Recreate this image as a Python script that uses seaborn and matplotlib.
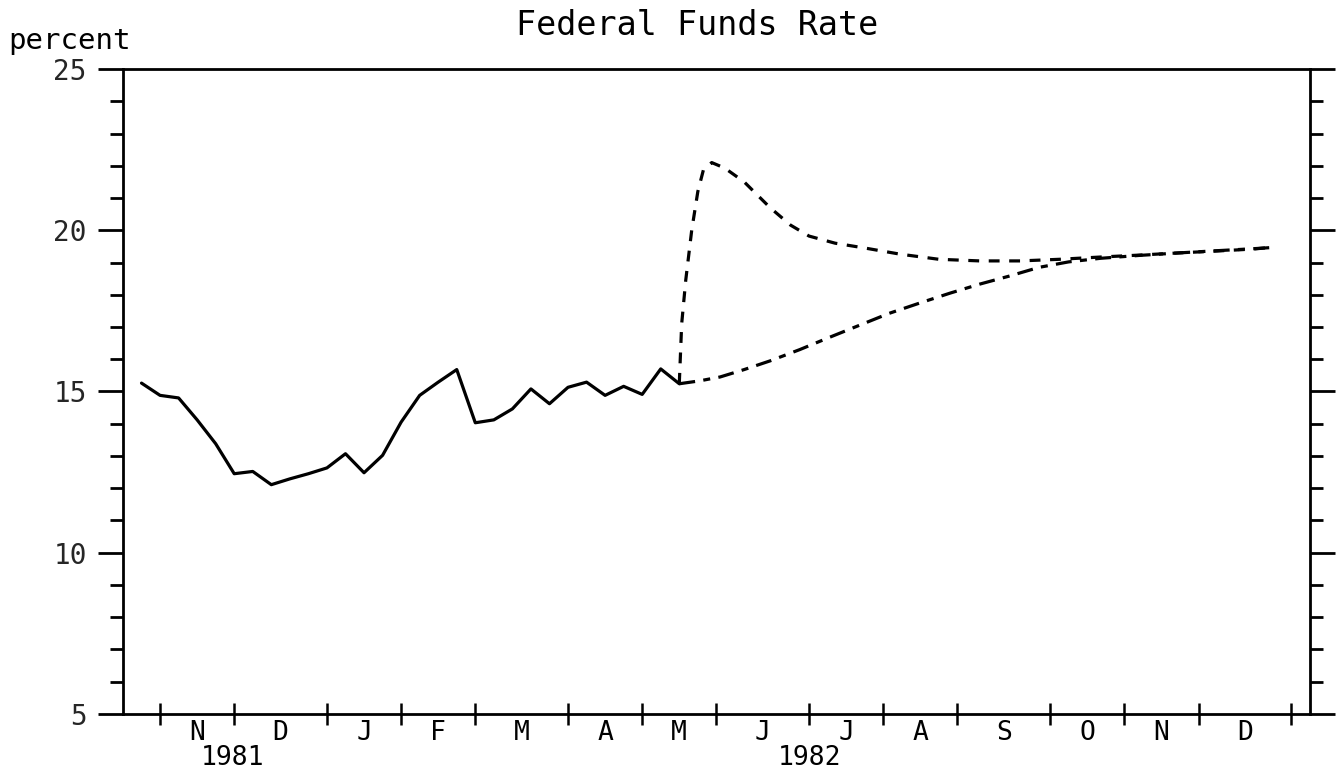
import numpy as np
import pandas as pd
import matplotlib
matplotlib.use("Agg")
import matplotlib.pyplot as plt
import seaborn as sns

# Weekly federal funds rate, weeks counted from the start of the axis (mid-Oct 1981)
actual_weeks = list(range(1, 31))
actual_rate = [15.26, 14.88, 14.80, 14.12, 13.38, 12.45, 12.52, 12.11, 12.29, 12.45,
               12.63, 13.07, 12.48, 13.02, 14.05, 14.88, 15.29, 15.68, 14.03, 14.12,
               14.46, 15.08, 14.62, 15.13, 15.29, 14.88, 15.16, 14.91, 15.70, 15.24]

# Projection with a sharp spike, starting from the last observed week
spike_weeks = [30, 30.13, 30.35, 30.67, 31.0, 31.3, 31.75, 32.45, 33.5, 34.9, 36.0, 37.0,
               38.4, 40.0, 41.9, 44.0, 46.2, 48.4, 50.5, 52.7, 54.8, 57.0, 59.1, 61.0, 62.1]
spike_rate = [15.24, 17.1, 18.46, 20.0, 21.2, 21.87, 22.1, 21.93, 21.5, 20.7, 20.16, 19.82,
              19.6, 19.45, 19.26, 19.1, 19.05, 19.05, 19.1, 19.17, 19.23, 19.3, 19.36,
              19.42, 19.48]

# Projection with a gradual rise
base_weeks = [30, 31.1, 32.2, 33.5, 34.9, 36.5, 38.1, 39.7, 41.3, 43.0, 44.6, 46.2, 47.8,
              49.4, 51.0, 52.7, 54.8, 57.0, 59.1, 61.0, 62.1]
base_rate = [15.24, 15.33, 15.45, 15.68, 15.95, 16.3, 16.68, 17.05, 17.42, 17.75, 18.05,
             18.33, 18.58, 18.85, 19.02, 19.13, 19.22, 19.3, 19.37, 19.43, 19.47]

# Month boundaries (in weeks) and labels
month_edges = [0, 2, 6, 11, 15, 19, 24, 28, 32, 37, 41, 45, 50, 54, 58, 63, 64]
month_labels = ["", "N", "D", "J", "F", "M", "A", "M", "J", "J", "A", "S", "O", "N", "D", ""]
year_labels = ["1981", "1982"]
year_pos = [5.9, 37.0]

sns.set_theme(style="white")
plt.rcParams["font.family"] = ["DejaVu Sans Mono", "DejaVu Sans"]

fig = plt.figure(figsize=(13.38, 7.76), dpi=100)
ax = fig.add_axes([0.0919, 0.080, 0.887, 0.831])

ink = "black"
sns.lineplot(x=actual_weeks, y=actual_rate, ax=ax, color=ink, lw=2.3, estimator=None)
sns.lineplot(x=spike_weeks, y=spike_rate, ax=ax, color=ink, lw=2.3, estimator=None,
             dashes=False, linestyle=(0, (3.4, 3.0)))
sns.lineplot(x=base_weeks, y=base_rate, ax=ax, color=ink, lw=2.3, estimator=None,
             dashes=False, linestyle=(0, (5, 2.6, 2.2, 2.6)))

ax.set_xlim(0, 64)
ax.set_ylim(5, 25)

for side in ["left", "right", "top", "bottom"]:
    ax.spines[side].set_visible(True)
    ax.spines[side].set_color(ink)
    ax.spines[side].set_linewidth(2.0)

# y axis: minor tick per point, labelled major every 5
ax.set_yticks([5, 10, 15, 20, 25])
ax.set_yticks(np.arange(5, 26, 1), minor=True)
ax.tick_params(axis="y", which="major", direction="out", length=18, width=2.0,
               labelsize=20, pad=8, left=True, right=True, labelright=False, color=ink)
ax.tick_params(axis="y", which="minor", direction="out", length=9.5, width=2.0,
               left=True, right=True, color=ink)
for t in ax.get_yticklabels():
    t.set_fontweight("medium")

# x axis: month boundaries as crossing ticks, month initials in between
ax.set_xticks(month_edges[1:-1])
ax.set_xticklabels([])
ax.tick_params(axis="x", which="major", direction="inout", length=16, width=1.8,
               bottom=True, top=False, color=ink)
mids = [(a + b) / 2 for a, b in zip(month_edges[:-1], month_edges[1:])]
for m, lab in zip(mids, month_labels):
    if lab:
        ax.text(m, -0.029, lab, transform=ax.get_xaxis_transform(), ha="center",
                va="center", fontsize=19, color=ink)
for p, lab in zip(year_pos, year_labels):
    ax.text(p, -0.069, lab, transform=ax.get_xaxis_transform(), ha="center",
            va="center", fontsize=19, color=ink)

ax.grid(False)
ax.set_xlabel("")
ax.set_ylabel("")
fig.text(0.521, 0.967, "Federal Funds Rate", ha="center", va="center",
         fontsize=24, color=ink)
fig.text(0.006, 0.937, "percent", ha="left", va="baseline", fontsize=21, color=ink)

fig.savefig("out.png", dpi=100, facecolor="white")
